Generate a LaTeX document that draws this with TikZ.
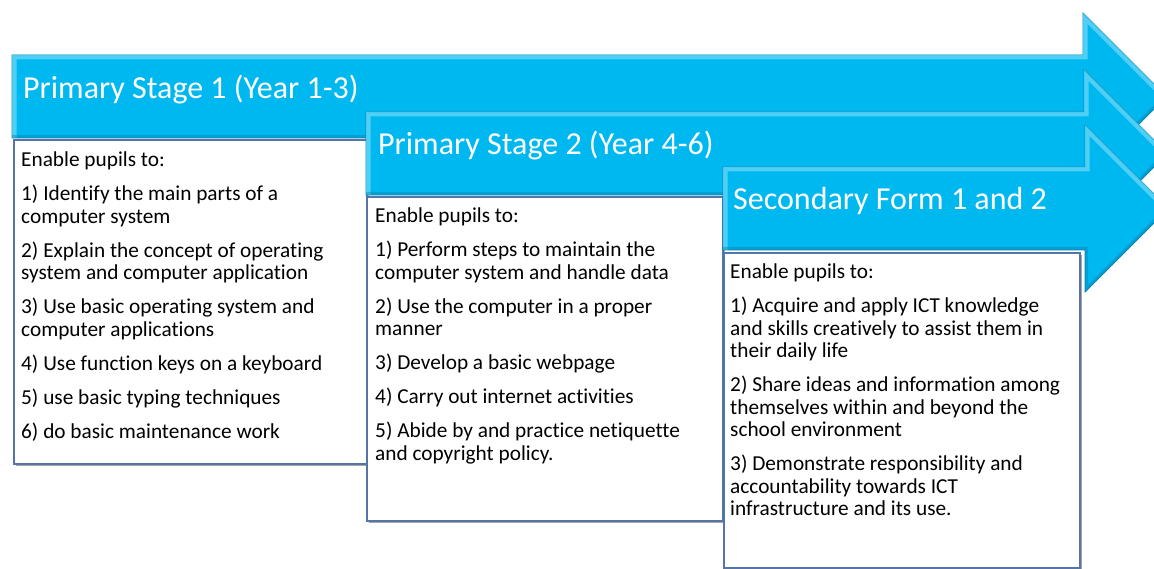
\documentclass[tikz,border=0pt]{standalone}
\usepackage{fontspec}
\setmainfont{Carlito}[Ligatures=NoCommon]
\usetikzlibrary{shadows}
\definecolor{arrowc}{HTML}{00B8F0}
\definecolor{arrowdark}{HTML}{0784B3}
\definecolor{arrowlight}{HTML}{8FE4FB}
\definecolor{boxline}{HTML}{5475A8}
\tikzset{
  arrowfill/.style={fill=arrowc, draw=arrowdark, line width=0.8pt, line join=miter},
  textbox/.style={anchor=north west, fill=white, draw=boxline, line width=1.6pt, inner sep=0pt,
    drop shadow={shadow xshift=2pt, shadow yshift=-2.5pt, opacity=0.35, fill=black}},
  title/.style={anchor=west, text=white, font=\fontsize{32}{36}\selectfont, inner sep=0pt},
  body/.style={anchor=north west, align=left, font=\fontsize{21.3}{22.5}\selectfont, inner sep=0pt},
}
\newcommand\stagearrow[4]{% #1 x0, #2 top, #3 bottom, #4 head base x
  \pgfmathsetmacro\hdT{#2-42}
  \pgfmathsetmacro\hdB{#3+42}
  \pgfmathsetmacro\tipx{#4+(#3-#2)/2+42}
  \pgfmathsetmacro\midy{(#2+#3)/2}
  \path[arrowfill] (#1,#2) -- (#4,#2) -- (#4,\hdT) -- (\tipx,\midy) -- (#4,\hdB) -- (#4,#3) -- (#1,#3) -- cycle;
  \begin{scope}
    \clip (#1,#2) -- (#4,#2) -- (#4,\hdT) -- (\tipx,\midy) -- (#4,\hdB) -- (#4,#3) -- (#1,#3) -- cycle;
    \draw[arrowlight, opacity=0.55, line width=9pt, line join=miter] (#1,#3) -- (#1,#2) -- (#4,#2) -- (#4,\hdT) -- (\tipx,\midy);
    \draw[arrowdark, opacity=0.45, line width=6pt, line join=miter] (\tipx,\midy) -- (#4,\hdB) -- (#4,#3) -- (#1,#3);
  \end{scope}
}
\begin{document}
\begin{tikzpicture}[x=1pt,y=-1pt]
\useasboundingbox (0,0) rectangle (1154,569);
\clip (0,0) rectangle (1154,569);

% Stage 1
\stagearrow{12}{55}{138}{1083}
\node[title] (t1) at (23,89.5) {Primary Stage 1 (Year 1-3)};
\node[textbox, minimum width=353pt, minimum height=324pt] (b1) at (13,139) {};
\node[body] (x1) at (21,152) {Enable pupils to:\\[11.5pt]
1) Identify the main parts of a\\computer system\\[11.5pt]
2) Explain the concept of operating\\system and computer application\\[11.5pt]
3) Use basic operating system and\\computer applications\\[11.5pt]
4) Use function keys on a keyboard\\[11.5pt]
5) use basic typing techniques\\[11.5pt]
6) do basic maintenance work};

% Stage 2
\stagearrow{366}{112}{195}{1084}
\node[title] (t2) at (378,145.5) {Primary Stage 2 (Year 4-6)};
\node[textbox, minimum width=356pt, minimum height=324pt] (b2) at (366,196) {};
\node[body] (x2) at (375,208) {Enable pupils to:\\[11.5pt]
1) Perform steps to maintain the\\computer system and handle data\\[11.5pt]
2) Use the computer in a proper\\manner\\[11.5pt]
3) Develop a basic webpage\\[11.5pt]
4) Carry out internet activities\\[11.5pt]
5) Abide by and practice netiquette\\and copyright policy.};

% Secondary
\stagearrow{723}{167}{250}{1085}
\node[title] (t3) at (733,200.5) {Secondary Form 1 and 2};
\node[textbox, minimum width=356pt, minimum height=315pt] (b3) at (723,252) {};
\node[body] (x3) at (730,264) {Enable pupils to:\\[11.5pt]
1) Acquire and apply ICT knowledge\\and skills creatively to assist them in\\their daily life\\[11.5pt]
2) Share ideas and information among\\themselves within and beyond the\\school environment\\[11.5pt]
3) Demonstrate responsibility and\\accountability towards ICT\\infrastructure and its use.};
\end{tikzpicture}
\end{document}
